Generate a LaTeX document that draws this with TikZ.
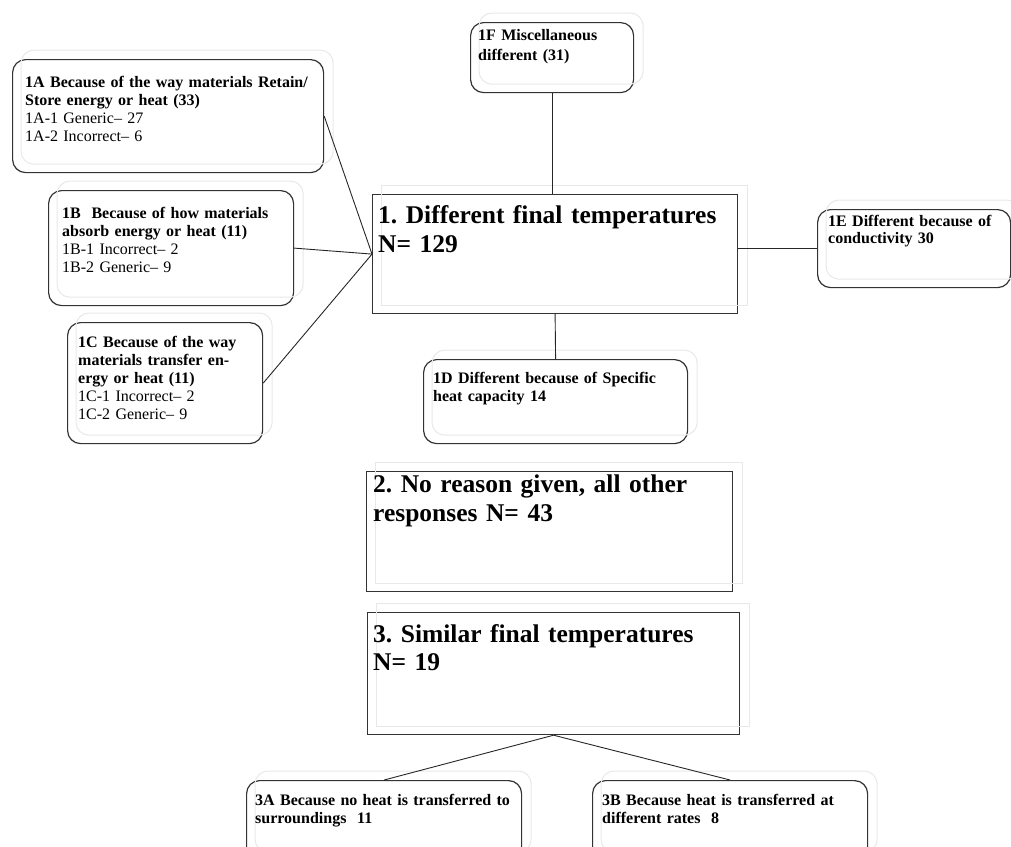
\documentclass[tikz,border=0pt]{standalone}
\usepackage{fontspec}
\setmainfont{Liberation Serif}
\frenchspacing
\begin{document}
\begin{tikzpicture}[x=1pt,y=-1pt,
  frame/.style={draw=black!80, line width=1.2pt, inner sep=0pt, anchor=north west},
  rbox/.style={frame, rounded corners=13pt},
  sbox/.style={frame},
  ghost/.style={draw=black!9, line width=1pt},
  link/.style={draw=black!85, line width=0.9pt},
  small/.style={inner sep=0pt, anchor=base west, text width=320pt, align=left,
    font=\fontsize{16}{18}\selectfont},
  big/.style={inner sep=0pt, anchor=base west, text width=360pt, align=left,
    font=\fontsize{25.5}{29.5}\selectfont\bfseries}]
\clip (0,0) rectangle (1011,846);

% boxes
\node[rbox, minimum width=311pt, minimum height=113pt] (b1A) at (12,59) {};
\node[rbox, minimum width=245pt, minimum height=115pt] (b1B) at (48,190) {};
\node[rbox, minimum width=195pt, minimum height=121pt] (b1C) at (67,322) {};
\node[rbox, minimum width=163pt, minimum height=70pt] (b1F) at (470,22) {};
\node[sbox, minimum width=365pt, minimum height=119pt] (b1) at (372,194) {};
\node[rbox, minimum width=193pt, minimum height=78pt] (b1E) at (817,209) {};
\node[rbox, minimum width=264pt, minimum height=84pt] (b1D) at (423,359) {};
\node[sbox, minimum width=366pt, minimum height=120pt] (b2) at (366,471) {};
\node[sbox, minimum width=372pt, minimum height=122pt] (b3) at (367,612) {};
\node[rbox, minimum width=275pt, minimum height=80pt] (b3A) at (246,780) {};
\node[rbox, minimum width=275pt, minimum height=80pt] (b3B) at (592,780) {};

% faint offset outlines behind the boxes
\foreach \n in {b1A,b1B,b1C,b1F,b1E,b1D,b3A,b3B}
  \draw[ghost, rounded corners=13pt] ([shift={(9,-9)}]\n.north west) rectangle ([shift={(9,-9)}]\n.south east);
\foreach \n in {b1,b2,b3}
  \draw[ghost] ([shift={(9,-9)}]\n.north west) rectangle ([shift={(9,-9)}]\n.south east);

% texts
\node[small] (t1A) at (25,87) {\textbf{1A Because of the way materials Retain/}\\\textbf{Store energy or heat (33)}\\1A-1 Generic– 27\\1A-2 Incorrect– 6};
\node[small] (t1B) at (62,218) {\textbf{1B\ \ Because of how materials}\\\textbf{absorb energy or heat (11)}\\1B-1 Incorrect– 2\\1B-2 Generic– 9};
\node[small] (t1C) at (78,347) {\textbf{1C Because of the way}\\\textbf{materials transfer en-}\\\textbf{ergy or heat (11)}\\1C-1 Incorrect– 2\\1C-2 Generic– 9};
\node[small, font=\fontsize{16}{20}\selectfont\bfseries] (t1F) at (478,40) {1F Miscellaneous\\different (31)};
\node[big] (t1) at (378,223) {1. Different final temperatures\\N= 129};
\node[small, font=\fontsize{16}{17.5}\selectfont\bfseries] (t1E) at (828,226) {1E Different because of\\conductivity 30};
\node[small, font=\fontsize{16}{18}\selectfont\bfseries] (t1D) at (433,383) {1D Different because of Specific\\heat capacity 14};
\node[big] (t2) at (373,492) {2. No reason given, all other\\responses N= 43};
\node[big, font=\fontsize{25.5}{28.5}\selectfont\bfseries] (t3) at (373,642) {3. Similar final temperatures\\N= 19};
\node[small, font=\fontsize{16}{18}\selectfont\bfseries] (t3A) at (255,805) {3A Because no heat is transferred to\\surroundings\ \ 11};
\node[small, font=\fontsize{16}{18}\selectfont\bfseries] (t3B) at (602,805) {3B Because heat is transferred at\\different rates\ \ 8};

% connectors
\draw[link] (b1A.east) -- (b1.west);
\draw[link] (b1B.east) -- (b1.west);
\draw[link] (b1C.east) -- (b1.west);
\draw[link] (b1F.south) -- (b1F.south |- b1.north);
\draw[link] (b1E.west -| b1.east) -- (b1E.west);
\draw[link] (b1.south) -- (b1D.north);
\draw[link] (b3.south) -- (b3A.north);
\draw[link] (b3.south) -- (b3B.north);
\end{tikzpicture}
\end{document}
